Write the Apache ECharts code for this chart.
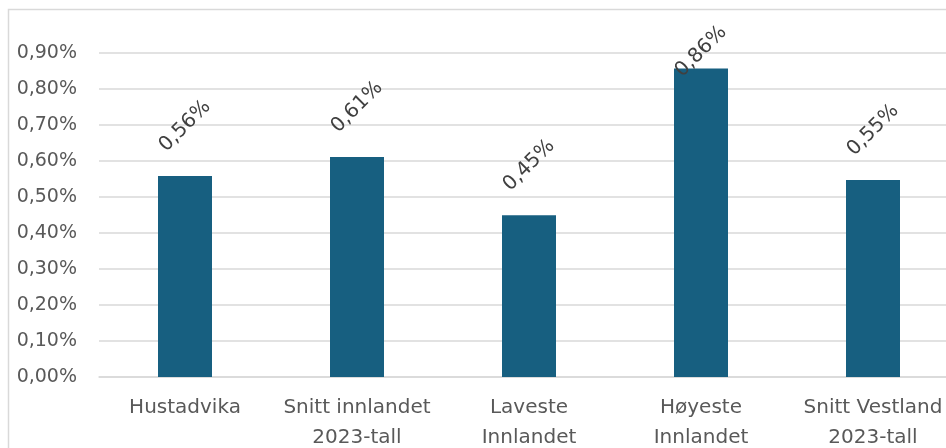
<!DOCTYPE html>
<html>
<head>
<meta charset="utf-8">
<script src="https://cdn.jsdelivr.net/npm/echarts@6/dist/echarts.min.js"></script>
<style>html,body{margin:0;padding:0;background:#fff;overflow:hidden;width:946px;height:448px;}#c{width:1000px;height:448px;}</style>
</head>
<body>
<div id="c"></div>
<script>
var categories = ['Hustadvika', 'Snitt innlandet\n2023-tall', 'Laveste\nInnlandet', 'Høyeste\nInnlandet', 'Snitt Vestland\n2023-tall'];
var values = [0.558, 0.611, 0.449, 0.857, 0.547];
var yTicks = [0, 0.1, 0.2, 0.3, 0.4, 0.5, 0.6, 0.7, 0.8, 0.9];

function pct(v) { return v.toFixed(2).replace('.', ',') + '%'; }

var chart = echarts.init(document.getElementById('c'));
var data = values.map(function (v, i) {
  var item = { value: v };
  if (i === 3) item.label = { distance: 17 };
  return item;
});
chart.setOption({
  animation: false,
  graphic: [{
    type: 'rect', silent: true,
    shape: { x: 8.5, y: 9.5, width: 1100, height: 500 },
    style: { fill: 'none', stroke: '#d9d9d9', lineWidth: 1.5 }
  }],
  grid: { left: 99, top: 53, width: 860, height: 324, outerBoundsMode: 'none' },
  xAxis: {
    type: 'category', data: categories,
    axisLine: { lineStyle: { color: '#d9d9d9', width: 1.5 } },
    axisTick: { show: false },
    axisLabel: { color: '#595959', fontSize: 20, lineHeight: 30, margin: 16, fontFamily: 'DejaVu Sans', interval: 0 }
  },
  yAxis: {
    type: 'value', min: yTicks[0], max: yTicks[yTicks.length - 1], interval: 0.1,
    axisLine: { show: false }, axisTick: { show: false },
    splitLine: { lineStyle: { color: '#d9d9d9', width: 1.5 } },
    axisLabel: { color: '#595959', fontSize: 19, margin: 22, fontFamily: 'DejaVu Sans', formatter: pct }
  },
  series: [{
    type: 'bar', data: data, barWidth: 54,
    itemStyle: { color: '#175f80' },
    label: {
      show: true, position: 'top', distance: 50, rotate: 45,
      align: 'center', verticalAlign: 'middle',
      color: '#404040', fontSize: 20, fontFamily: 'DejaVu Sans',
      formatter: function (p) { return pct(p.value); }
    }
  }]
});
</script>
</body>
</html>
